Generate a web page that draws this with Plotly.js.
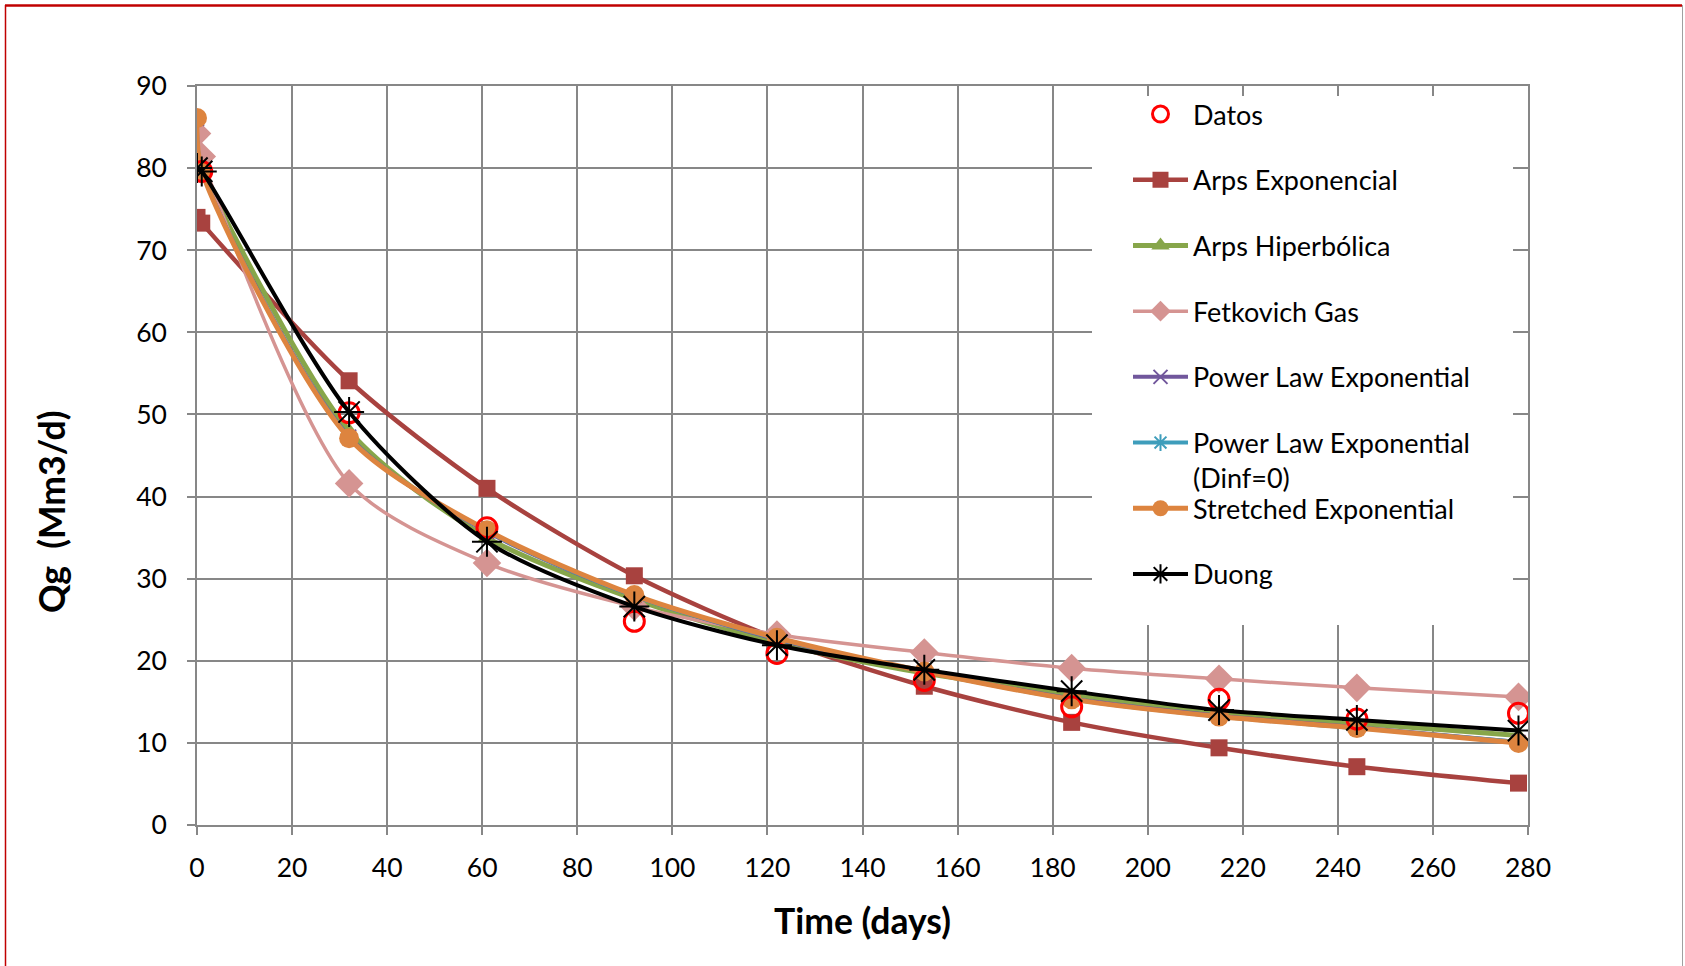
<!DOCTYPE html>
<html>
<head>
<meta charset="utf-8">
<script src="https://cdn.plot.ly/plotly-3.0.1.min.js"></script>
<style>
html,body{margin:0;padding:0;background:#fff;overflow:hidden}
#chart{width:1685px;height:966px}
</style>
</head>
<body>
<div id="chart"></div>
<script>
// ---- data ----
const modelDays = [0, 1, 32, 61, 92, 122, 153, 184, 215, 244, 278];
const dataDays = [1, 32, 61, 92, 122, 153, 184, 215, 244, 278];
const datos = [79.6, 50.2, 36.2, 24.8, 20.9, 17.6, 14.4, 15.3, 12.9, 13.6];
const arpsExponencial = [74.0, 73.3, 54.1, 41.0, 30.35, 22.7, 16.9, 12.5, 9.4, 7.1, 5.1];
const arpsHiperbolica = [81.0, 79.6, 48.0, 35.0, 27.5, 22.2, 18.5, 15.9, 13.7, 12.4, 10.9];
const fetkovichGas = [84.2, 81.4, 41.6, 31.9, 26.6, 23.2, 21.0, 19.1, 17.8, 16.7, 15.6];
const powerLawExp = [86.0, 79.8, 47.3, 35.7, 27.9, 22.6, 18.7, 15.4, 13.3, 11.9, 10.1];
const powerLawExpDinf0 = [86.0, 79.8, 47.2, 35.8, 27.9, 22.7, 18.7, 15.3, 13.2, 11.8, 10.1];
const stretchedExp = [86.1, 79.7, 47.1, 35.9, 28.0, 22.8, 18.7, 15.3, 13.2, 11.8, 10.0];
const duong = [80.0, 79.6, 50.3, 34.5, 26.6, 21.9, 18.9, 16.3, 14.0, 12.8, 11.5];

const seriesNames = ['Datos', 'Arps Exponencial', 'Arps Hiperbólica', 'Fetkovich Gas',
  'Power Law Exponential', 'Power Law Exponential<br>(Dinf=0)', 'Stretched Exponential', 'Duong'];
const xTickVals = [0, 20, 40, 60, 80, 100, 120, 140, 160, 180, 200, 220, 240, 260, 280];
const yTickVals = [0, 10, 20, 30, 40, 50, 60, 70, 80, 90];
const xTitle = 'Time (days)';
const yTitle = 'Qg&nbsp;&nbsp;(Mm3/d)';

// ---- layout helpers ----
const W = 1685, H = 966;
const M = {l: 197, r: 157, t: 86, b: 141};
const PW = W - M.l - M.r, PH = H - M.t - M.b;
const px = x => (x - M.l) / PW;
const py = y => (H - M.b - y) / PH;

const FONT = 'Lato, "Open Sans", sans-serif';
const GRID = '#878787';

function lineTrace(name, y, color, lw, symbol, msize, rank, legend, extraMarker) {
  return {
    type: 'scatter', mode: 'lines+markers', name: name, x: modelDays, y: y,
    line: {color: color, width: lw, shape: 'spline', smoothing: 0.8},
    marker: Object.assign({symbol: symbol, size: msize, color: color}, extraMarker || {}),
    legend: legend, legendgroup: name, legendrank: rank
  };
}

const traces = [
  lineTrace(seriesNames[1], arpsExponencial, '#A8423F', 4.5, 'square', 17, 2, 'legend'),
  lineTrace(seriesNames[2], arpsHiperbolica, '#87A64A', 5, 'triangle-up', 16, 3, 'legend'),
  lineTrace(seriesNames[3], fetkovichGas, '#D59492', 3.5, 'diamond', 22, 4, 'legend'),
  lineTrace(seriesNames[4], powerLawExp, '#71579C', 4, 'x-thin-open', 14, 5, 'legend',
            {line: {color: '#71579C', width: 2}}),
  lineTrace(seriesNames[5], powerLawExpDinf0, '#3E9DBB', 4, 'asterisk-open', 14, 6, 'legend',
            {line: {color: '#3E9DBB', width: 2}}),
  lineTrace(seriesNames[6], stretchedExp, '#DD843F', 5, 'circle', 20, 7, 'legend2'),
  {
    type: 'scatter', mode: 'markers', name: seriesNames[0], x: dataDays, y: datos,
    marker: {symbol: 'circle-open', size: 20, color: '#FF0000', line: {color: '#FF0000', width: 3}},
    legend: 'legend', legendgroup: seriesNames[0], legendrank: 1
  },
  lineTrace(seriesNames[7], duong, '#000000', 4, 'asterisk-open', 25, 8, 'legend2',
            {line: {color: '#000000', width: 2}})
];

const ITEM = 65.7;
const legendCommon = {
  xref: 'paper', yref: 'paper', xanchor: 'left', yanchor: 'top',
  bgcolor: 'rgba(0,0,0,0)', borderwidth: 0, font: {family: FONT, size: 27, color: '#000'},
  itemwidth: 55, traceorder: 'grouped', tracegroupgap: 27.6, valign: 'top'
};
const legTop = 90.0;

const layout = {
  width: W, height: H,
  margin: M,
  paper_bgcolor: '#fff', plot_bgcolor: '#fff',
  font: {family: FONT, size: 26, color: '#000'},
  showlegend: true,
  legend: Object.assign({}, legendCommon, {x: px(1128), y: py(legTop)}),
  legend2: Object.assign({}, legendCommon, {x: px(1128), y: py(legTop + 6 * ITEM)}),
  xaxis: {
    range: [0, 280], tickvals: xTickVals, ticktext: xTickVals.map(String),
    showgrid: true, gridcolor: GRID, gridwidth: 1.6,
    zeroline: false, showline: true, linecolor: GRID, linewidth: 1.6, mirror: true,
    ticks: 'outside', ticklen: 8, tickcolor: GRID, tickwidth: 1.6,
    tickfont: {family: FONT, size: 26.5, color: '#000'}, ticklabelstandoff: 10,
    title: {text: xTitle, font: {family: FONT, size: 35.5, weight: 700, color: '#000'}, standoff: 28}
  },
  yaxis: {
    range: [0, 90], tickvals: yTickVals, ticktext: yTickVals.map(String),
    showgrid: true, gridcolor: GRID, gridwidth: 1.6,
    zeroline: false, showline: true, linecolor: GRID, linewidth: 1.6, mirror: true,
    ticks: 'outside', ticklen: 8, tickcolor: GRID, tickwidth: 1.6,
    tickfont: {family: FONT, size: 26.5, color: '#000'}, ticklabelstandoff: 15
  },
  annotations: [{
    text: yTitle, textangle: -90, showarrow: false,
    xref: 'paper', yref: 'paper', x: px(51), y: py(512), xanchor: 'center', yanchor: 'middle',
    font: {family: FONT, size: 35.5, weight: 700, color: '#000'}
  }],
  shapes: [
    // white panel behind the legend
    {type: 'rect', xref: 'paper', yref: 'paper', x0: px(1092), x1: px(1513), y0: py(625), y1: py(96),
     fillcolor: '#fff', line: {width: 0}, layer: 'above'},
    // outer frame of the chart picture
    {type: 'line', xref: 'paper', yref: 'paper', x0: px(5), x1: px(1682), y0: py(5.5), y1: py(5.5),
     line: {color: '#C00000', width: 2.5}, layer: 'above'},
    {type: 'line', xref: 'paper', yref: 'paper', x0: px(5.5), x1: px(5.5), y0: py(5), y1: py(966),
     line: {color: '#C00000', width: 1.5}, layer: 'above'},
    {type: 'line', xref: 'paper', yref: 'paper', x0: px(1682.5), x1: px(1682.5), y0: py(5), y1: py(966),
     line: {color: '#A0A0A0', width: 1}, layer: 'above'}
  ]
};

Plotly.newPlot('chart', traces, layout, {displayModeBar: false, responsive: false});
</script>
</body>
</html>
